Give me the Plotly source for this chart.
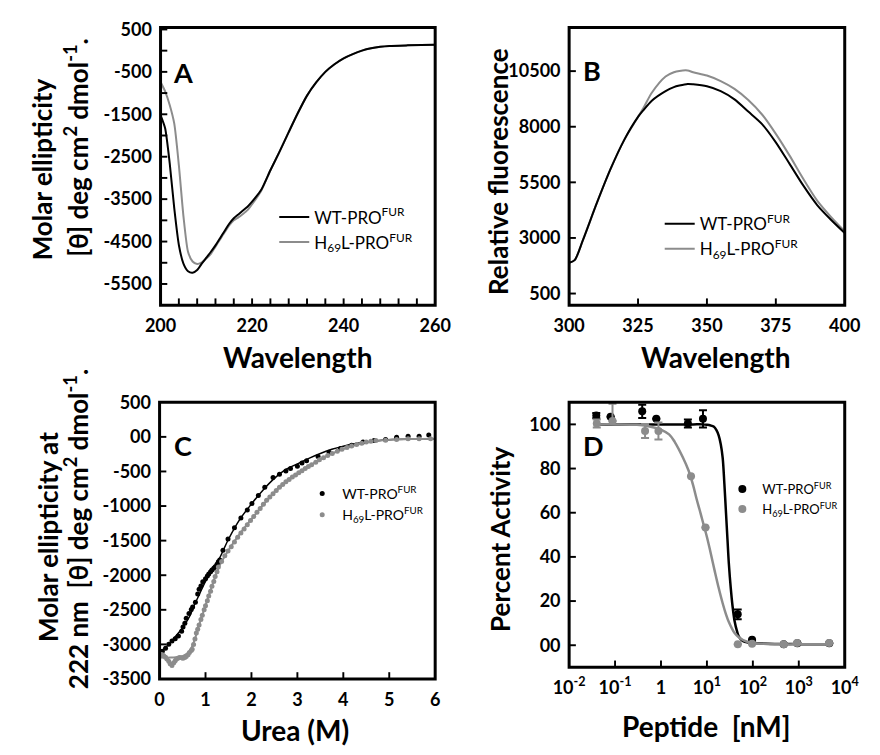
import math
import plotly.graph_objects as go

W, H = 880, 755
FONT = "Lato"
BLACK = "#000000"
GRAY = "#8c8c8c"

# ---------------- Panel A: CD spectra ----------------
wl_a = [200, 201, 202, 203, 204, 205, 206, 207, 208, 209, 210, 211, 212, 213, 214, 215,
        216, 217, 218, 219, 220, 222, 224, 226, 228, 230, 232, 234, 236, 238, 240, 242,
        244, 246, 248, 250, 254, 260]
cd_wt = [-1520, -1830, -2650, -3720, -4580, -5020, -5200, -5235, -5170, -5020, -4880, -4740,
         -4590, -4420, -4250, -4080, -3950, -3860, -3770, -3680, -3560, -3280, -2820, -2380,
         -1920, -1470, -1060, -750, -500, -320, -180, -80, 0, 55, 90, 110, 125, 140]
cd_h69 = [-740, -960, -1280, -1720, -2700, -3900, -4740, -4970, -5030, -4990, -4900, -4790,
          -4620, -4450, -4280, -4120, -4000, -3930, -3850, -3760, -3620, -3300, -2820, -2380,
          -1920, -1470, -1060, -750, -500, -320, -180, -80, 0, 55, 90, 110, 125, 140]
a_yticks = [500, 0, -500, -1000, -1500, -2000, -2500, -3000, -3500, -4000, -4500, -5000, -5500]
a_ytext = ["500", "", "-500", "", "-1500", "", "-2500", "", "-3500", "", "-4500", "", "-5500"]
a_xticks = [200, 204, 208, 212, 216, 220, 224, 228, 232, 236, 240, 244, 248, 252, 256, 260]
a_xtext = ["200", "", "", "", "", "220", "", "", "", "", "240", "", "", "", "", "260"]

# ---------------- Panel B: fluorescence ----------------
wl_b = [300, 302, 305, 310, 315, 320, 325, 327, 330, 335, 338, 340, 343, 345, 350, 355,
        360, 365, 370, 375, 380, 385, 390, 395, 400]
fl_wt = [1880, 2000, 2900, 4550, 6090, 7410, 8440, 8750, 9170, 9600, 9780, 9850, 9925, 9910,
         9820, 9600, 9230, 8680, 8120, 7300, 6330, 5350, 4480, 3820, 3220]
fl_h69 = [1880, 2000, 2900, 4550, 6090, 7410, 8440, 8850, 9530, 10260, 10450, 10510, 10530,
          10450, 10300, 10050, 9700, 9200, 8550, 7680, 6700, 5650, 4680, 3950, 3300]
b_yticks = [500, 3000, 5500, 8000, 10500]
b_ytext = ["500", "3000", "5500", "8000", "10500"]
b_xticks = [300, 325, 350, 375, 400]
b_xtext = ["300", "325", "350", "375", "400"]

# ---------------- Panel C: urea denaturation ----------------
urea_wt = [0.06, 0.13, 0.2, 0.27, 0.34, 0.41, 0.48, 0.51, 0.55, 0.58, 0.64, 0.69, 0.72, 0.78,
           0.83, 0.86, 0.9, 0.94, 1.0, 1.04, 1.07, 1.11, 1.14, 1.18, 1.21, 1.25, 1.28, 1.31,
           1.38, 1.49, 1.63, 1.77, 1.91, 2.01, 2.15, 2.29, 2.47, 2.61, 2.75, 2.85, 3.0, 3.1,
           3.2, 3.45, 3.69, 3.94, 4.18, 4.43, 4.67, 4.92, 5.16, 5.41, 5.65, 5.86]
ell_wt = [-3100, -3057, -2997, -2950, -2917, -2880, -2810, -2750, -2693, -2623, -2553, -2497,
          -2460, -2390, -2273, -2203, -2157, -2095, -2050, -2010, -1983, -1950, -1923, -1900,
          -1877, -1840, -1807, -1780, -1640, -1477, -1313, -1173, -1056, -963, -846, -729,
          -589, -542, -495, -458, -425, -379, -346, -285, -224, -168, -121, -75, -51, -37,
          -5, 9, 9, 28]
urea_h69 = [0.02, 0.06, 0.09, 0.13, 0.16, 0.2, 0.23, 0.27, 0.31, 0.34, 0.37, 0.41, 0.44, 0.48,
            0.51, 0.55, 0.58, 0.62, 0.65, 0.69, 0.71, 0.74, 0.77, 0.80, 0.83, 0.86, 0.9, 0.93,
            0.97, 1.0, 1.04, 1.07, 1.11, 1.14, 1.18, 1.21, 1.25, 1.28, 1.35, 1.42, 1.49, 1.56,
            1.63, 1.7, 1.77, 1.84, 1.91, 1.98, 2.05, 2.12, 2.19, 2.26, 2.33, 2.4, 2.47, 2.54,
            2.61, 2.68, 2.75, 2.82, 2.89, 2.96, 3.03, 3.1, 3.17, 3.24, 3.31, 3.4, 3.48, 3.57,
            3.66, 3.76, 3.87, 3.97, 4.08, 4.18, 4.29, 4.4, 4.5, 4.6, 4.71, 4.92, 5.16, 5.41,
            5.65, 5.9]
ell_h69 = [-3141, -3150, -3164, -3185, -3211, -3245, -3281, -3304, -3267, -3235, -3211, -3196,
           -3188, -3192, -3200, -3188, -3174, -3150, -3118, -3090, -3071, -3001, -2921, -2837,
           -2780, -2720, -2640, -2580, -2500, -2440, -2370, -2300, -2230, -2160, -2090, -2020,
           -1950, -1880, -1800, -1720, -1650, -1590, -1520, -1450, -1390, -1330, -1270, -1210,
           -1150, -1090, -1035, -975, -916, -870, -822, -775, -729, -690, -650, -615, -580,
           -550, -519, -488, -458, -430, -402, -365, -332, -300, -271, -240, -206, -180, -154,
           -133, -112, -93, -75, -62, -51, -47, -37, -28, -28, -28]
fit_urea = [0.0, 0.25, 0.5, 0.65, 0.75, 0.85, 1.0, 1.15, 1.3, 1.5, 1.75, 2.0, 2.25, 2.5, 2.75,
            3.0, 3.25, 3.5, 3.75, 4.0, 4.25, 4.5, 4.75, 5.0, 5.5, 6.0]
fit_wt_c = [-3140, -2960, -2760, -2600, -2440, -2300, -2090, -1920, -1760, -1480, -1190, -970,
            -770, -600, -470, -390, -310, -240, -180, -135, -100, -75, -55, -42, -32, -28]
fit_h69_c = [-3190, -3190, -3170, -3100, -2960, -2740, -2440, -2140, -1870, -1640, -1400, -1190,
             -985, -800, -650, -530, -425, -325, -243, -175, -120, -80, -55, -42, -32, -28]
c_yticks = [500, 0, -500, -1000, -1500, -2000, -2500, -3000, -3500]
c_ytext = ["500", "00", "-500", "-1000", "-1500", "-2000", "-2500", "-3000", "-3500"]
c_xticks = [0, 1, 2, 3, 4, 5, 6]
c_xtext = ["0", "1", "2", "3", "4", "5", "6"]

# ---------------- Panel D: inhibition ----------------
pep_wt = [0.039, 0.08, 0.39, 0.79, 3.85, 8.2, 46.8, 96, 470, 930, 4600]
act_wt = [104, 103.4, 105.9, 102.5, 100.4, 102.5, 14, 2.5, 0.4, 0.9, 0.9]
err_wt = [1.2, 0, 3, 0, 1.8, 3.9, 2.2, 0, 0, 0, 0]
pep_h69 = [0.04, 0.088, 0.45, 0.88, 4.5, 9.3, 47, 96, 470, 915, 4570]
act_h69 = [100.4, 101.5, 97, 97, 76.5, 53.3, 0.4, 0.7, 0.4, 1.0, 1.0]
err_h69_up = [1.8, 7.8, 3.2, 3.8, 0, 0, 0, 0, 0, 0, 0]
err_h69_dn = [1.8, 0, 3.2, 3.8, 0, 0, 0, 0, 0, 0, 0]
fit_pep_wt = [0.04, 0.1, 1, 5, 8, 10, 12, 14, 16, 18, 20, 22, 24, 26, 28, 30, 33, 36, 40, 45,
              50, 60, 80, 100, 300, 1000, 5000]
fit_act_wt = [100, 100, 100, 100, 100, 99.8, 99.5, 99, 97.5, 95, 91, 85, 73, 60, 48, 37, 26, 18,
              11, 6.5, 3.8, 2, 1.2, 1, 0.6, 0.5, 0.5]
fit_pep_h69 = [0.04, 0.1, 0.3, 0.5, 0.8, 1, 1.5, 2, 3, 4, 5, 6, 7, 8, 10, 12, 15, 18, 22, 26,
               30, 40, 50, 70, 100, 200, 500, 1000, 5000]
fit_act_h69 = [100, 100, 99.8, 99.3, 98.3, 97.6, 95.5, 92, 85, 79, 72.5, 66, 61, 56.5, 49, 42,
               33, 26, 19, 14, 10.5, 5.5, 3.5, 1.8, 1, 0.6, 0.4, 0.4, 0.4]
d_yticks = [0, 20, 40, 60, 80, 100]
d_ytext = ["00", "20", "40", "60", "80", "100"]
d_xticks = [0.01, 0.1, 1, 10, 100, 1000, 10000]
d_xtext = ["10<sup>-2</sup>", "10<sup>-1</sup>", "1", "10<sup>1</sup>", "10<sup>2</sup>",
           "10<sup>3</sup>", "10<sup>4</sup>"]

NAME_WT = "WT-PRO<sup>FUR</sup>"
NAME_H69 = "H<sub>69</sub>L-PRO<sup>FUR</sup>"

# axis ranges and panel boxes (pixel positions in the 880x755 page)
A_XR, A_YR = [200, 260], [-6000, 545]
B_XR, B_YR = [300, 400], [-24, 12460]
C_XR, C_YR = [0, 6], [-3500, 500]
D_XR, D_YR = [-2, 4], [-10, 110]   # x in log10 units
A_BOX = (150, 435, 16, 302)
B_BOX = (574, 860, 16, 302)
C_BOX = (149, 435, 402, 687)
D_BOX = (574, 860, 402, 675)


def px(x):
    return x / W


def py(y):
    return 1 - y / H


def bold(labels):
    return ["<b>" + s + "</b>" if s else "" for s in labels]


fig = go.Figure()

fig.add_trace(go.Scatter(x=wl_a, y=cd_h69, mode="lines", name=NAME_H69, line=dict(color=GRAY, width=2, shape="spline", smoothing=0.6),
                         xaxis="x", yaxis="y", legend="legend", legendrank=2))
fig.add_trace(go.Scatter(x=wl_a, y=cd_wt, mode="lines", name=NAME_WT, line=dict(color=BLACK, width=2, shape="spline", smoothing=0.6),
                         xaxis="x", yaxis="y", legend="legend", legendrank=1))
fig.add_trace(go.Scatter(x=wl_b, y=fl_h69, mode="lines", name=NAME_H69, line=dict(color=GRAY, width=2, shape="spline", smoothing=0.8),
                         xaxis="x2", yaxis="y2", legend="legend2", legendrank=2))
fig.add_trace(go.Scatter(x=wl_b, y=fl_wt, mode="lines", name=NAME_WT, line=dict(color=BLACK, width=2, shape="spline", smoothing=0.8),
                         xaxis="x2", yaxis="y2", legend="legend2", legendrank=1))
fig.add_trace(go.Scatter(x=fit_urea, y=fit_wt_c, mode="lines", showlegend=False, line=dict(color=BLACK, width=1.5, shape="spline"),
                         xaxis="x3", yaxis="y3"))
fig.add_trace(go.Scatter(x=fit_urea, y=fit_h69_c, mode="lines", showlegend=False, line=dict(color=GRAY, width=2, shape="spline"),
                         xaxis="x3", yaxis="y3"))
fig.add_trace(go.Scatter(x=urea_wt, y=ell_wt, mode="markers", name=NAME_WT, marker=dict(color=BLACK, size=5),
                         xaxis="x3", yaxis="y3", legend="legend3", legendrank=1))
fig.add_trace(go.Scatter(x=urea_h69, y=ell_h69, mode="markers", name=NAME_H69, marker=dict(color=GRAY, size=5),
                         xaxis="x3", yaxis="y3", legend="legend3", legendrank=2))
fig.add_trace(go.Scatter(x=fit_pep_wt, y=fit_act_wt, mode="lines", showlegend=False, line=dict(color=BLACK, width=2.5, shape="spline"),
                         xaxis="x4", yaxis="y4"))
fig.add_trace(go.Scatter(x=pep_wt, y=act_wt, mode="markers", name=NAME_WT, marker=dict(color=BLACK, size=8),
                         error_y=dict(type="data", array=err_wt, visible=True, color=BLACK, thickness=2, width=4),
                         xaxis="x4", yaxis="y4", legend="legend4", legendrank=1))
fig.add_trace(go.Scatter(x=fit_pep_h69, y=fit_act_h69, mode="lines", showlegend=False, line=dict(color=GRAY, width=2.5, shape="spline"),
                         xaxis="x4", yaxis="y4"))
fig.add_trace(go.Scatter(x=pep_h69, y=act_h69, mode="markers", name=NAME_H69, marker=dict(color=GRAY, size=8),
                         error_y=dict(type="data", array=err_h69_up, arrayminus=err_h69_dn, visible=True, color=GRAY, thickness=2, width=4),
                         xaxis="x4", yaxis="y4", legend="legend4", legendrank=2))

tickfont = dict(family=FONT, size=18, color="black")


def axis(box, rng, tv, tt, anchor, horizontal, typ="linear"):
    dom = [px(box[0]), px(box[1])] if horizontal else [py(box[3]), py(box[2])]
    return dict(domain=dom, range=rng, type=typ, tickmode="array", tickvals=tv, ticktext=bold(tt),
                ticks="outside", ticklen=4, tickcolor="rgba(0,0,0,0)",
                showline=False, showgrid=False, zeroline=False,
                tickfont=tickfont, anchor=anchor)


fig.update_layout(
    width=W, height=H, margin=dict(l=0, r=0, t=0, b=0), autosize=False,
    paper_bgcolor="white", plot_bgcolor="white", showlegend=True,
    xaxis=axis(A_BOX, A_XR, a_xticks, a_xtext, "y", True),
    yaxis=axis(A_BOX, A_YR, a_yticks, a_ytext, "x", False),
    xaxis2=axis(B_BOX, B_XR, b_xticks, b_xtext, "y2", True),
    yaxis2=axis(B_BOX, B_YR, b_yticks, b_ytext, "x2", False),
    xaxis3=axis(C_BOX, C_XR, c_xticks, c_xtext, "y3", True),
    yaxis3=axis(C_BOX, C_YR, c_yticks, c_ytext, "x3", False),
    xaxis4=axis(D_BOX, D_XR, d_xticks, d_xtext, "y4", True, typ="log"),
    yaxis4=axis(D_BOX, D_YR, d_yticks, d_ytext, "x4", False),
    legend=dict(x=px(268), y=py(193), xanchor="left", yanchor="top", bgcolor="rgba(0,0,0,0)",
                font=dict(family=FONT, size=17, color=BLACK)),
    legend2=dict(x=px(668), y=py(200), xanchor="left", yanchor="top", bgcolor="rgba(0,0,0,0)",
                 font=dict(family=FONT, size=17, color=BLACK)),
    legend3=dict(x=px(297), y=py(480), xanchor="left", yanchor="top", bgcolor="rgba(0,0,0,0)",
                 font=dict(family=FONT, size=14, color=BLACK)),
    legend4=dict(x=px(733), y=py(476), xanchor="left", yanchor="top", bgcolor="rgba(0,0,0,0)",
                 font=dict(family=FONT, size=13, color=BLACK)),
)

# Frame boxes first (paper rectangles), then inside tick marks as small filled paper
# rectangles placed with each axis' own range -> pixel mapping at the tick values above.
TICK_LEN = 7
TICK_HALF = 1.0


def xpix(box, xr, v, xlog=False):
    v = math.log10(v) if xlog else v
    return box[0] + (v - xr[0]) / (xr[1] - xr[0]) * (box[1] - box[0])


def ypix(box, yr, v):
    return box[3] - (v - yr[0]) / (yr[1] - yr[0]) * (box[3] - box[2])


for box in (A_BOX, B_BOX, C_BOX, D_BOX):
    fig.add_shape(type="rect", xref="paper", yref="paper", x0=px(box[0]), x1=px(box[1]),
                  y0=py(box[3]), y1=py(box[2]), line=dict(color="black", width=3))


def ticks(box, xr, yr, xticks, yticks, xlog=False):
    for t in xticks:
        xx = xpix(box, xr, t, xlog)
        fig.add_shape(type="rect", xref="paper", yref="paper",
                      x0=px(xx - TICK_HALF), x1=px(xx + TICK_HALF),
                      y0=py(box[3]), y1=py(box[3] - TICK_LEN),
                      line=dict(width=0), fillcolor="black")
    for t in yticks:
        yy = ypix(box, yr, t)
        fig.add_shape(type="rect", xref="paper", yref="paper",
                      x0=px(box[0]), x1=px(box[0] + TICK_LEN),
                      y0=py(yy + TICK_HALF), y1=py(yy - TICK_HALF),
                      line=dict(width=0), fillcolor="black")


ticks(A_BOX, A_XR, A_YR, a_xticks[1:-1], a_yticks)
ticks(B_BOX, B_XR, B_YR, b_xticks[1:-1], b_yticks)
ticks(C_BOX, C_XR, C_YR, c_xticks[1:-1], c_yticks[1:-1])
ticks(D_BOX, D_XR, D_YR, d_xticks[1:-1], d_yticks, xlog=True)

ytitle_font = dict(family=FONT, size=26, color=BLACK)
xtitle_font = dict(family=FONT, size=28, color=BLACK)
letter_font = dict(family=FONT, size=27, color=BLACK)


def ann(text, x, y, font, angle=0):
    fig.add_annotation(text="<b>" + text + "</b>", x=px(x), y=py(y), xref="paper", yref="paper",
                       xanchor="center", yanchor="middle", showarrow=False,
                       textangle=angle, font=font)


ann("A", 173, 62, letter_font)
ann("B", 598, 60, letter_font)
ann("C", 173, 447, letter_font)
ann("D", 599, 447, letter_font)
ann("Wavelength", 293, 355, xtitle_font)
ann("Wavelength", 726, 355, xtitle_font)
ann("Urea (M)", 290, 740, xtitle_font)
ann("Peptide\u00a0\u00a0[nM]", 717, 735, xtitle_font)
ann("Molar ellipticity", 27, 162, ytitle_font, -90)
ann("[\u03b8] deg cm<sup>2</sup> dmol<sup>-1</sup>.", 63, 140, ytitle_font, -90)
ann("Relative fluorescence", 500, 164, ytitle_font, -90)
ann("Molar ellipticity at", 33, 541, ytitle_font, -90)
ann("222 nm\u00a0\u00a0[\u03b8] deg cm<sup>2</sup> dmol<sup>-1</sup>.", 63, 533, ytitle_font, -90)
ann("Percent Activity", 502, 543, ytitle_font, -90)

fig.write_html("out.html")
